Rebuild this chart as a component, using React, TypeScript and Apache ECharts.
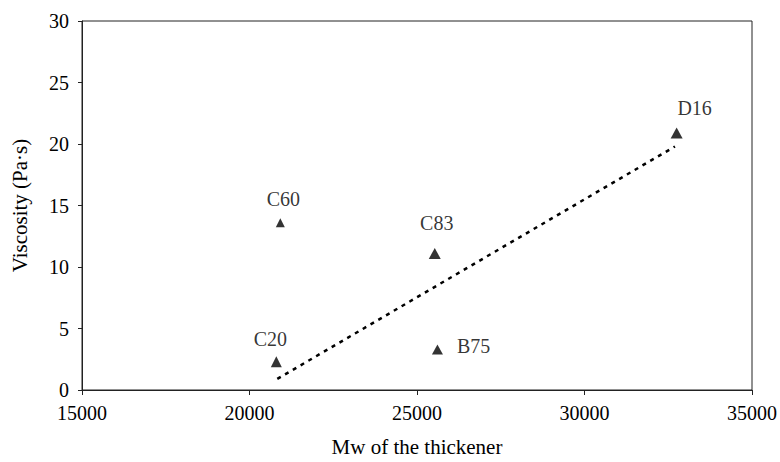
import React, { useEffect, useRef } from "react";
import * as echarts from "echarts";

const names = ["C60", "C20", "C83", "B75", "D16"];
const mw = [20920, 20800, 25530, 25610, 32750];
const viscosity = [13.6, 2.3, 11.1, 3.3, 20.9];
const trendX = [20830, 32700];
const trendY = [0.9, 19.8];
const labelOffsets: [number, number][] = [
  [3, 0],
  [-6, 2],
  [2, -6],
  [0, 0],
  [18, 0],
];
const symbolSizes: [number, number][] = [
  [9, 9],
  [11, 11],
  [12, 11],
  [11, 10],
  [12, 11],
];

const FONT = "Liberation Serif";

export default function App() {
  const ref = useRef<HTMLDivElement>(null);
  useEffect(() => {
    if (!ref.current) return;
    const chart = echarts.init(ref.current, undefined, { renderer: "svg" });
    const pts = names.map((n, i) => ({
      name: n,
      value: [mw[i], viscosity[i]],
      symbolSize: symbolSizes[i],
      label:
        n === "B75"
          ? { position: "right", distance: 14, offset: [0, -3] }
          : { position: "top", distance: 9, offset: labelOffsets[i] },
    }));
    chart.setOption({
      animation: false,
      backgroundColor: "#fff",
      textStyle: { fontFamily: FONT },
      grid: {
        left: 82,
        right: 23,
        top: 21,
        bottom: 68,
        show: true,
        borderColor: "#222",
        borderWidth: 1,
      },
      xAxis: {
        type: "value",
        min: 15000,
        max: 35000,
        interval: 5000,
        name: "Mw of the thickener",
        nameLocation: "middle",
        nameGap: 46,
        nameTextStyle: { fontFamily: FONT, fontSize: 21, color: "#000" },
        axisLine: { show: true, lineStyle: { color: "#222", width: 1 } },
        axisTick: { show: true, inside: false, length: 5, lineStyle: { color: "#222" } },
        axisLabel: {
          fontFamily: FONT,
          fontSize: 20,
          color: "#000",
          margin: 13,
          formatter: (v: number) => String(v),
        },
        splitLine: { show: false },
      },
      yAxis: {
        type: "value",
        min: 0,
        max: 30,
        interval: 5,
        name: "Viscosity (Pa·s)",
        nameLocation: "middle",
        nameGap: 52,
        nameTextStyle: { fontFamily: FONT, fontSize: 21, color: "#000" },
        axisLine: { show: true, lineStyle: { color: "#222", width: 1 } },
        axisTick: { show: true, inside: false, length: 4, lineStyle: { color: "#222" } },
        axisLabel: { fontFamily: FONT, fontSize: 20, color: "#000", margin: 13 },
        splitLine: { show: false },
      },
      series: [
        {
          type: "line",
          data: trendX.map((x, i) => [x, trendY[i]]),
          showSymbol: false,
          symbol: "none",
          lineStyle: { color: "#000", width: 2.5, type: [4, 5] },
          silent: true,
          z: 1,
        },
        {
          type: "scatter",
          symbol: "triangle",
          itemStyle: { color: "#000" },
          data: pts,
          label: {
            show: true,
            formatter: "{b}",
            fontFamily: FONT,
            fontSize: 20,
            color: "#000",
          },
          z: 2,
        },
      ],
    });
    return () => chart.dispose();
  }, []);
  return (
    <div
      ref={ref}
      style={{ position: "absolute", left: 0, top: 0, width: 780, height: 462 }}
    />
  );
}
